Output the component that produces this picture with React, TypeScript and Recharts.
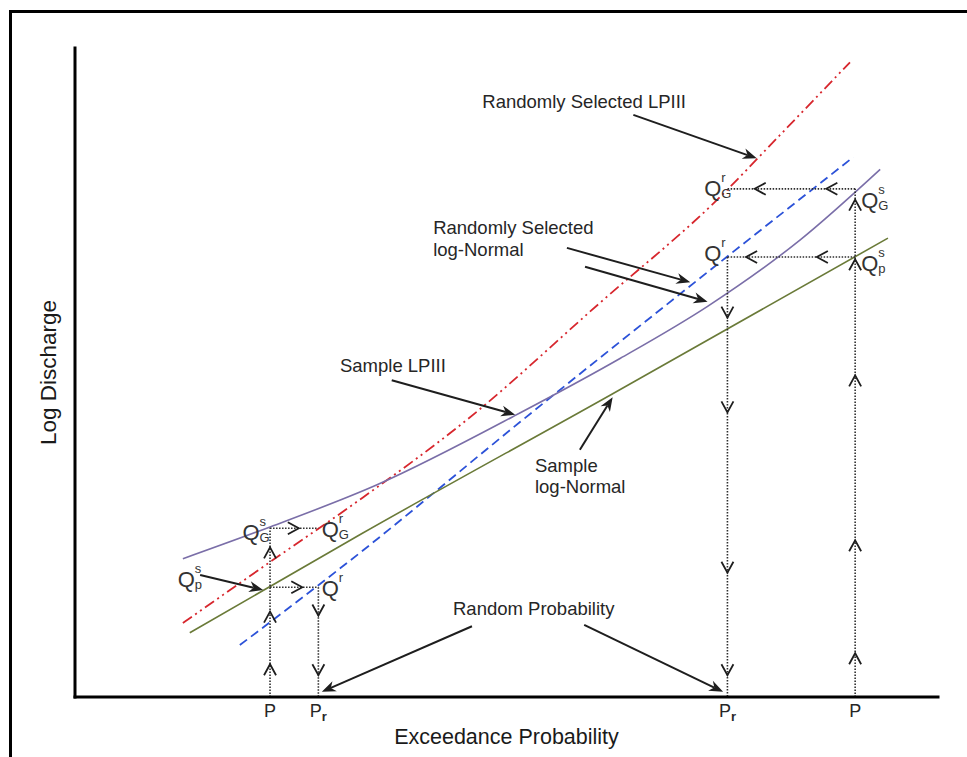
import React from 'react';
import {
  ComposedChart, Line, Scatter, XAxis, YAxis,
  ReferenceLine, ReferenceDot, Label,
} from 'recharts';

const FONT = '"Liberation Sans", Arial, sans-serif';
const INK = '#1e1e1e';

// schematic curves, x = exceedance position (0-100), y = log discharge (0-100)
const randomLP3 = [
  { x: 12.5, y: 11.4 }, { x: 22.6, y: 20.8 }, { x: 33.0, y: 30.4 }, { x: 45.4, y: 42.7 },
  { x: 60.8, y: 60.7 }, { x: 74.4, y: 76.6 }, { x: 81.7, y: 86.6 }, { x: 89.8, y: 97.8 },
];
const randomLN = [
  { x: 19.1, y: 8.0 }, { x: 33.0, y: 22.2 }, { x: 51.6, y: 42.4 }, { x: 73.9, y: 66.1 }, { x: 90.2, y: 83.2 },
];
const sampleLP3 = [
  { x: 12.5, y: 21.3 }, { x: 22.6, y: 26.2 }, { x: 35.0, y: 32.7 }, { x: 51.6, y: 43.8 },
  { x: 63.2, y: 52.2 }, { x: 73.3, y: 60.2 }, { x: 84.0, y: 70.4 }, { x: 93.3, y: 81.3 },
];
const sampleLN = [
  { x: 13.3, y: 9.9 }, { x: 33.0, y: 25.0 }, { x: 62.0, y: 46.5 }, { x: 94.2, y: 70.7 },
];

const tickPos = [22.6, 28.2, 75.6, 90.4];
const tickMain = ['P', 'P', 'P', 'P'];
const tickSub = ['', 'r', 'r', ''];

// dotted guides [x1, y1, x2, y2]
const guides = [
  [22.6, 0, 22.6, 26.0],
  [28.2, 16.9, 28.2, 0],
  [22.6, 26.0, 28.2, 26.0],
  [22.6, 16.9, 28.2, 16.9],
  [75.6, 67.8, 75.6, 0],
  [90.4, 0, 90.4, 78.3],
  [90.4, 78.3, 75.6, 78.3],
  [90.4, 67.8, 75.6, 67.8],
];

// direction marks on the guides
const chevUp = [
  { x: 22.6, y: 4.2 }, { x: 22.6, y: 12.3 }, { x: 22.6, y: 22.2 },
  { x: 90.4, y: 5.9 }, { x: 90.4, y: 23.3 }, { x: 90.4, y: 48.7 }, { x: 90.4, y: 66.6 }, { x: 90.4, y: 75.8 },
];
const chevDown = [
  { x: 28.2, y: 13.4 }, { x: 28.2, y: 4.2 },
  { x: 75.6, y: 59.3 }, { x: 75.6, y: 44.7 }, { x: 75.6, y: 20.0 }, { x: 75.6, y: 4.2 },
];
const chevRight = [{ x: 25.3, y: 26.0 }, { x: 25.7, y: 16.9 }];
const chevLeft = [{ x: 79.4, y: 78.3 }, { x: 87.7, y: 78.3 }, { x: 78.4, y: 67.8 }, { x: 86.6, y: 67.8 }];

// callout arrows [x1, y1, x2(tip), y2(tip)]
const pointers = [
  [64.7, 89.7, 79.0, 83.0],
  [57.0, 69.2, 71.3, 63.9],
  [59.1, 66.3, 73.3, 60.9],
  [36.7, 48.8, 51.0, 43.5],
  [58.5, 38.1, 62.3, 46.2],
  [14.5, 18.8, 21.8, 16.5],
  [46.0, 10.9, 28.6, 0.8],
  [59.0, 11.1, 75.1, 0.8],
];

const notes = [
  { x: 47.2, y: 90.8, lines: ['Randomly Selected LPIII'] },
  { x: 41.5, y: 71.3, lines: ['Randomly Selected', 'log-Normal'] },
  { x: 30.7, y: 50.1, lines: ['Sample LPIII'] },
  { x: 53.3, y: 34.7, lines: ['Sample', 'log-Normal'] },
  { x: 43.8, y: 12.6, lines: ['Random Probability'] },
];

const qLabels = [
  { x: 19.4, y: 24.2, sup: 's', sub: 'G' },
  { x: 28.6, y: 24.7, sup: 'r', sub: 'G' },
  { x: 11.9, y: 16.9, sup: 's', sub: 'p' },
  { x: 28.6, y: 15.6, sup: 'r', sub: '' },
  { x: 72.9, y: 77.2, sup: 'r', sub: 'G' },
  { x: 72.9, y: 67.2, sup: 'r', sub: '' },
  { x: 91.1, y: 75.3, sup: 's', sub: 'G' },
  { x: 91.1, y: 65.6, sup: 's', sub: 'p' },
];

function Chevron({ cx, cy, dir }: { cx: number; cy: number; dir: string }) {
  const w = 6, h = 5.5;
  let d = '';
  if (dir === 'up') d = `M${cx - w},${cy + h} L${cx},${cy - h} L${cx + w},${cy + h}`;
  if (dir === 'down') d = `M${cx - w},${cy - h} L${cx},${cy + h} L${cx + w},${cy - h}`;
  if (dir === 'left') d = `M${cx + h},${cy - w} L${cx - h},${cy} L${cx + h},${cy + w}`;
  if (dir === 'right') d = `M${cx - h},${cy - w} L${cx + h},${cy} L${cx - h},${cy + w}`;
  return <path d={d} fill="none" stroke={INK} strokeWidth={1.8} />;
}

function Pointer(p: any) {
  const { x1, y1, x2, y2 } = p;
  const ang = Math.atan2(y2 - y1, x2 - x1);
  const L = 14, W = 5.5;
  const bx = x2 - L * Math.cos(ang), by = y2 - L * Math.sin(ang);
  const nx = x2 - L * 0.7 * Math.cos(ang), ny = y2 - L * 0.7 * Math.sin(ang);
  const px = -Math.sin(ang), py = Math.cos(ang);
  const head = `${x2},${y2} ${bx + px * W},${by + py * W} ${nx},${ny} ${bx - px * W},${by - py * W}`;
  return (
    <g>
      <line x1={x1} y1={y1} x2={nx} y2={ny} stroke={INK} strokeWidth={2} />
      <polygon points={head} fill={INK} />
    </g>
  );
}

function Note({ cx, cy, lines }: { cx: number; cy: number; lines: string[] }) {
  return (
    <g>
      {lines.map((l, i) => (
        <text key={i} x={cx} y={cy + i * 21.5} fontSize={18.5} fontFamily={FONT} fill="#262626">{l}</text>
      ))}
    </g>
  );
}

function QLabel({ cx, cy, sup, sub }: { cx: number; cy: number; sup: string; sub: string }) {
  return (
    <g fontFamily={FONT} fill="#333">
      <text x={cx} y={cy} fontSize={22}>Q</text>
      <text x={cx + 17} y={cy - 14} fontSize={13}>{sup}</text>
      {sub && <text x={cx + 17} y={cy + 2} fontSize={13}>{sub}</text>}
    </g>
  );
}

function PTick({ x, y, index }: any) {
  return (
    <text x={x} y={y + 12} textAnchor="middle" fontSize={18} fontFamily={FONT} fill="#262626">
      {tickMain[index]}
      {tickSub[index] && <tspan fontSize={13} dy={4} fontWeight="bold">{tickSub[index]}</tspan>}
    </text>
  );
}

function XTitle({ viewBox }: any) {
  return (
    <text x={viewBox.x + viewBox.width / 2} y={viewBox.y + 47} textAnchor="middle"
      fontSize={21.5} fontFamily={FONT} fill="#1a1a1a">Exceedance Probability</text>
  );
}

function YTitle({ viewBox }: any) {
  const cx = viewBox.x + 33;
  const cy = viewBox.y + viewBox.height / 2;
  return (
    <text x={cx} y={cy} transform={`rotate(-90 ${cx} ${cy})`} textAnchor="middle" dominantBaseline="central"
      fontSize={22.5} fontFamily={FONT} fill="#1a1a1a">Log Discharge</text>
  );
}

export default function App() {
  const axisLine = { stroke: '#000', strokeWidth: 3, strokeLinecap: 'square' as const };
  return (
    <div style={{ position: 'absolute', left: 0, top: 0, width: 967, height: 757, overflow: 'hidden', background: '#fff' }}>
      <div style={{
        position: 'absolute', left: 9, top: 10, width: 980, height: 780,
        borderLeft: '3px solid #000', borderTop: '3px solid #000',
      }} />
      <div style={{ position: 'absolute', left: 0, top: 0 }}>
        <ComposedChart width={967} height={757} margin={{ top: 48, right: 29, bottom: 0, left: 15 }}>
          <XAxis type="number" dataKey="x" domain={[0, 100]} ticks={tickPos} interval={0}
            height={60} tick={<PTick />} tickLine={false} axisLine={axisLine} allowDataOverflow>
            <Label content={<XTitle />} />
          </XAxis>
          <YAxis type="number" dataKey="y" domain={[0, 100]} width={60} tick={false}
            tickLine={false} axisLine={axisLine} allowDataOverflow>
            <Label content={<YTitle />} />
          </YAxis>

          <Line data={randomLP3} dataKey="y" type="monotone" stroke="#d7262d" strokeWidth={1.8}
            strokeDasharray="11 4 2 4 2 4" dot={false} isAnimationActive={false} />
          <Line data={randomLN} dataKey="y" type="monotone" stroke="#2c52d8" strokeWidth={1.8}
            strokeDasharray="9 5" dot={false} isAnimationActive={false} />
          <Line data={sampleLP3} dataKey="y" type="monotone" stroke="#7a6ea8" strokeWidth={1.6}
            dot={false} isAnimationActive={false} />
          <Line data={sampleLN} dataKey="y" type="monotone" stroke="#6a7a38" strokeWidth={1.6}
            dot={false} isAnimationActive={false} />

          {guides.map((g, i) => (
            <ReferenceLine key={'g' + i} segment={[{ x: g[0], y: g[1] }, { x: g[2], y: g[3] }]}
              stroke="#2e2e2e" strokeWidth={1.6} strokeDasharray="1.5 1.5" ifOverflow="visible" />
          ))}

          <Scatter data={chevUp} dataKey="y" isAnimationActive={false}
            shape={(p: any) => <Chevron cx={p.cx} cy={p.cy} dir="up" />} />
          <Scatter data={chevDown} dataKey="y" isAnimationActive={false}
            shape={(p: any) => <Chevron cx={p.cx} cy={p.cy} dir="down" />} />
          <Scatter data={chevRight} dataKey="y" isAnimationActive={false}
            shape={(p: any) => <Chevron cx={p.cx} cy={p.cy} dir="right" />} />
          <Scatter data={chevLeft} dataKey="y" isAnimationActive={false}
            shape={(p: any) => <Chevron cx={p.cx} cy={p.cy} dir="left" />} />

          {pointers.map((a, i) => (
            <ReferenceLine key={'a' + i} segment={[{ x: a[0], y: a[1] }, { x: a[2], y: a[3] }]}
              ifOverflow="visible" shape={(p: any) => <Pointer {...p} />} />
          ))}

          {notes.map((n, i) => (
            <ReferenceDot key={'n' + i} x={n.x} y={n.y} r={0} ifOverflow="visible"
              shape={(p: any) => <Note cx={p.cx} cy={p.cy} lines={n.lines} />} />
          ))}

          {qLabels.map((q, i) => (
            <ReferenceDot key={'q' + i} x={q.x} y={q.y} r={0} ifOverflow="visible"
              shape={(p: any) => <QLabel cx={p.cx} cy={p.cy} sup={q.sup} sub={q.sub} />} />
          ))}
        </ComposedChart>
      </div>
    </div>
  );
}
